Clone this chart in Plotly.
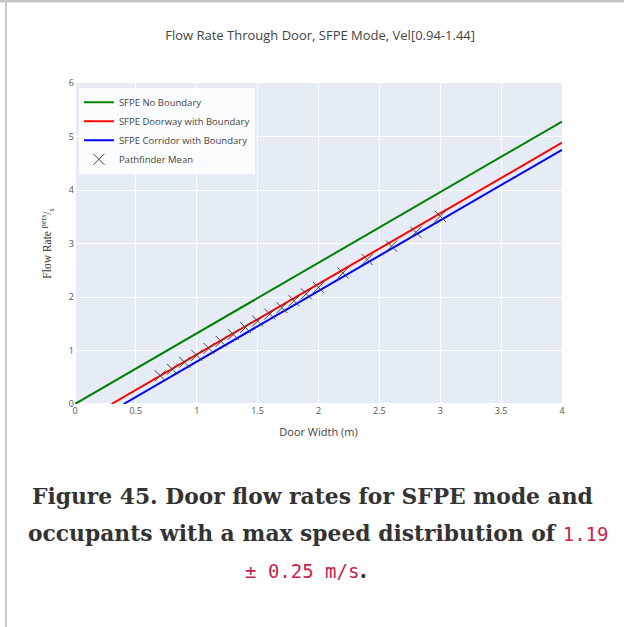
import plotly.graph_objects as go

# ---- data ----
line_names = ["SFPE No Boundary", "SFPE Doorway with Boundary", "SFPE Corridor with Boundary"]
line_colors = ["green", "red", "blue"]
nb_x = [0.0, 4.0]
nb_y = [0.0, 5.28]
door_x = [0.3, 4.0]
door_y = [0.0, 4.884]
corr_x = [0.4, 4.0]
corr_y = [0.0, 4.752]

pf_x = [0.7, 0.8, 0.9, 1.0, 1.1, 1.2, 1.3, 1.4, 1.5, 1.6, 1.7, 1.8, 1.9, 2.0, 2.2, 2.4, 2.6, 2.8, 3.0]
pf_y = [0.53, 0.65, 0.78, 0.91, 1.04, 1.17, 1.30, 1.43, 1.55, 1.68, 1.80, 1.93, 2.06, 2.18, 2.45, 2.70, 2.95, 3.21, 3.51]

x_ticks = [0, 0.5, 1, 1.5, 2, 2.5, 3, 3.5, 4]
x_tick_labels = ["0", "0.5", "1", "1.5", "2", "2.5", "3", "3.5", "4"]
y_ticks = [0, 1, 2, 3, 4, 5, 6]

W, H = 624, 627
L, R, T, B = 75, 62, 83, 223

fig = go.Figure()
for name, col, xs, ys in zip(line_names, line_colors, [nb_x, door_x, corr_x], [nb_y, door_y, corr_y]):
    fig.add_trace(go.Scatter(x=xs, y=ys, mode="lines", name=name,
                             line=dict(color=col, width=2)))
fig.add_trace(go.Scatter(x=pf_x, y=pf_y, mode="markers", name="Pathfinder Mean",
                         marker=dict(symbol="x-thin", size=11, color="#444",
                                     line=dict(width=1, color="#444"))))

def px2paper_x(px):
    return (px - L) / (W - L - R)

def px2paper_y(py):
    return (H - B - py) / (H - T - B)

shapes = [
    dict(type="rect", xref="paper", yref="paper",
         x0=px2paper_x(0), x1=px2paper_x(W), y0=px2paper_y(2.5), y1=px2paper_y(0),
         fillcolor="#c4c4c4", line=dict(width=0), layer="above"),
    dict(type="rect", xref="paper", yref="paper",
         x0=px2paper_x(5), x1=px2paper_x(7), y0=px2paper_y(H), y1=px2paper_y(0),
         fillcolor="#c8c8c8", line=dict(width=0), layer="above"),
]

serif = "DejaVu Serif"
mono = "DejaVu Sans Mono"
crimson = "#c7254e"
cap_size = 21.8
mono_style = f"font-family:{mono};color:{crimson};font-size:19px"
annotations = [
    dict(text="<b>Figure 45. Door flow rates for SFPE mode and</b>",
         x=px2paper_x(312), y=px2paper_y(496), xref="paper", yref="paper",
         showarrow=False, xanchor="center", yanchor="middle",
         font=dict(family=serif, size=cap_size, color="#333")),
    dict(text="<b>occupants with a max speed distribution of </b>"
              f"<span style='{mono_style}'>1.19</span>",
         x=px2paper_x(318), y=px2paper_y(533), xref="paper", yref="paper",
         showarrow=False, xanchor="center", yanchor="middle",
         font=dict(family=serif, size=cap_size, color="#333")),
    dict(text=f"<span style='{mono_style}'>± 0.25 m/s</span><b>.</b>",
         x=px2paper_x(306), y=px2paper_y(570), xref="paper", yref="paper",
         showarrow=False, xanchor="center", yanchor="middle",
         font=dict(family=serif, size=cap_size, color="#333")),
]

fig.update_layout(
    width=W, height=H,
    margin=dict(l=L, r=R, t=T, b=B),
    template="plotly",
    title=dict(text="Flow Rate Through Door, SFPE Mode, Vel[0.94-1.44]",
               x=0.513, xanchor="center", y=1 - 35 / H, yanchor="middle",
               font=dict(size=13, color="#444")),
    xaxis=dict(range=[0, 4], tickvals=x_ticks, ticktext=x_tick_labels,
               tickfont=dict(size=9, color="#555"),
               title=dict(text="Door Width (m)", font=dict(size=11, color="#444"), standoff=12)),
    yaxis=dict(range=[0, 6], tickvals=y_ticks, tickfont=dict(size=9, color="#555"),
               title=dict(text="Flow Rate <sup>pers</sup>/<sub>s</sub>",
                          font=dict(size=11.5, color="#333", family="Liberation Serif"),
                          standoff=14)),
    legend=dict(x=0.008, y=0.985, xanchor="left", yanchor="top",
                bgcolor="rgba(255,255,255,0.85)", font=dict(size=9.5, color="#444"),
                tracegroupgap=0, itemwidth=30),
    shapes=shapes,
    annotations=annotations,
    paper_bgcolor="white",
)

fig.write_html("out.html", config={"displayModeBar": False},
               post_script="document.body.style.margin='0';")
